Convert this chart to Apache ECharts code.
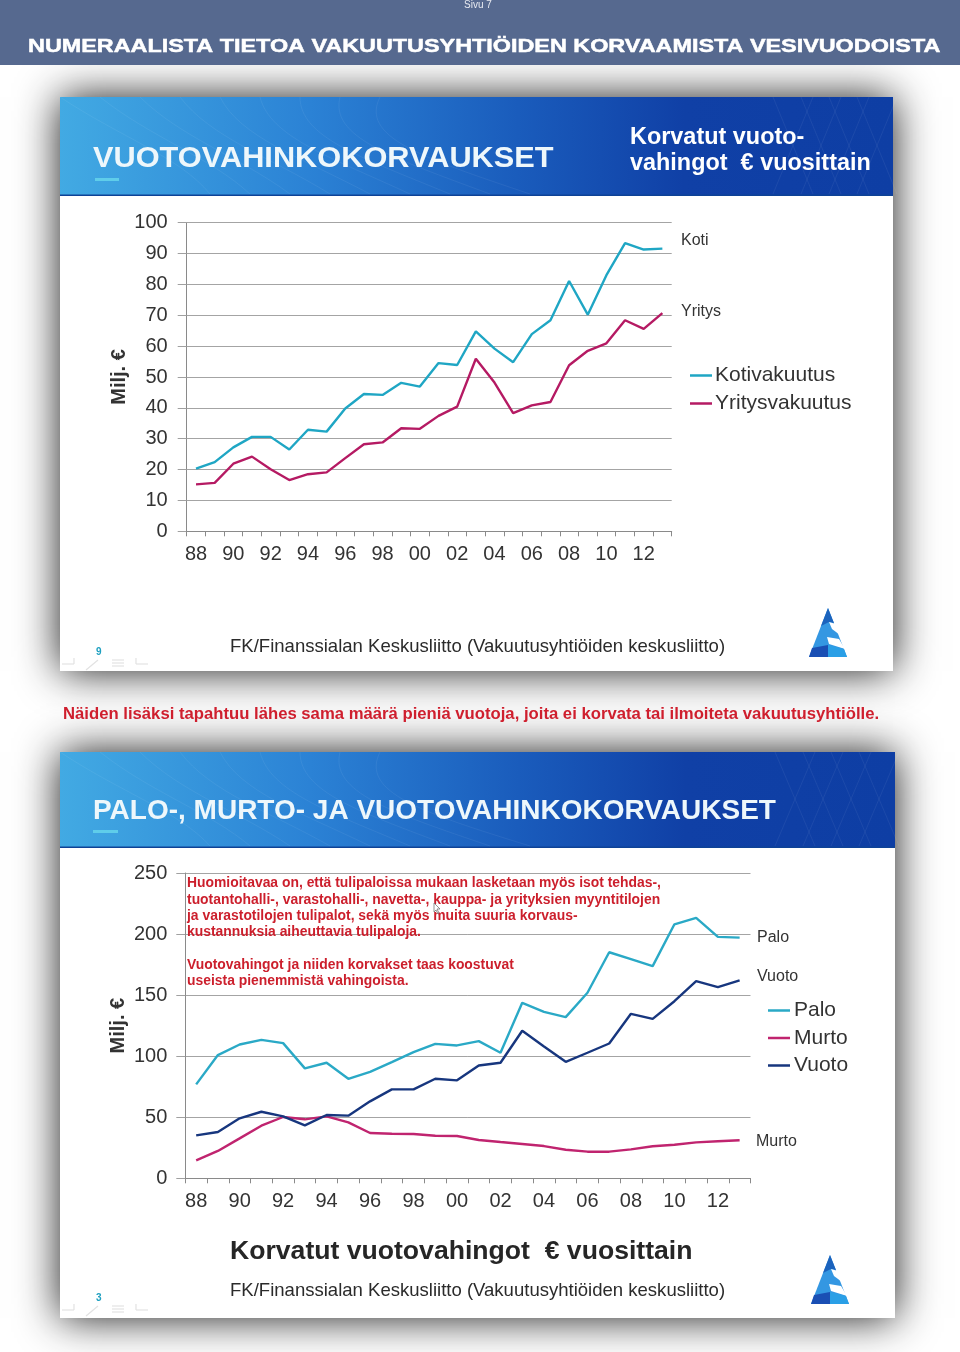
<!DOCTYPE html>
<html>
<head>
<meta charset="utf-8">
<title>Vuotovahinkokorvaukset</title>
<style>
html,body{margin:0;padding:0;background:#fff;}
#myChart{width:960px;height:1352px;}
</style>
<script src="https://cdn.jsdelivr.net/npm/echarts@6/dist/echarts.min.js"></script>
</head>
<body>
<div id="myChart"></div>
<script>
var years = ['88','89','90','91','92','93','94','95','96','97','98','99','00','01','02','03','04','05','06','07','08','09','10','11','12','13'];
var koti = [20.3,22.4,27.2,30.6,30.6,26.5,32.9,32.3,39.8,44.5,44.2,48.1,46.9,54.5,53.9,64.8,59.2,54.8,63.9,68.4,81.1,70.2,83,93.4,91.3,91.6];
var yritys = [15.2,15.7,21.9,24.2,20.1,16.6,18.5,19.1,23.7,28.2,28.8,33.4,33.2,37.4,40.4,55.9,48.2,38.3,40.8,41.9,53.8,58.5,60.9,68.4,65.6,70.7];
var palo = [76.9,100.9,109.6,113.4,110.7,90,94.6,81.5,87.2,95.1,103.3,110.1,108.8,112.3,102.8,143.7,136.3,132,151.9,185.1,179.4,173.7,208,213.2,197.7,197.1];
var murto = [14.7,22.4,32.7,43.1,50.2,48.3,50.7,45.8,37.1,36.5,36.3,34.9,34.6,31.4,29.7,28.1,26.4,23.4,21.8,21.8,23.7,26.2,27.5,29.4,30.3,31.1];
var vuoto = [35.2,37.9,49.1,54.5,50.7,43.3,51.8,51.3,63,72.8,72.8,81.5,80.2,92.4,94.6,120.8,108,95.4,102.8,110.4,134.7,130.6,145,161.4,156.5,162];
var noteLines = [
	'Huomioitavaa on, että tulipaloissa mukaan lasketaan myös isot tehdas-,',
	'tuotantohalli-, varastohalli-, navetta-, kauppa- ja yrityksien myyntitilojen',
	'ja varastotilojen tulipalot, sekä myös muita suuria korvaus-',
	'kustannuksia aiheuttavia tulipaloja.',
	'',
	'Vuotovahingot ja niiden korvakset taas koostuvat',
	'useista pienemmistä vahingoista.'
];

var font = '"Liberation Sans", Arial, sans-serif';
var gridColor = '#a4a4a4';

function txt(x, y, s, size, color, bold, extra){
	var o = {
		type:'text', x:x, y:y + size * 0.07, z:20,
		style:{text:s, font:(bold ? 'bold ' : '') + size + 'px ' + font, fill:color, textVerticalAlign:'middle'}
	};
	if(extra){
		for(var k in extra){ o[k] = extra[k]; }
	}
	return o;
}
function headerFill(){
	return new echarts.graphic.LinearGradient(0,0,1,0.15,[
		{offset:0,color:'#42aae3'},
		{offset:0.3,color:'#2b82d5'},
		{offset:0.55,color:'#1a5cbc'},
		{offset:0.75,color:'#1040a6'},
		{offset:1,color:'#0e3ea4'}
	]);
}
// slide background: shadow, white body, blue header with a few faint lines
function slide(x, y, w, h, headH){
	var list = [
		{type:'rect', z:-5, shape:{x:x,y:y,width:w,height:h}, style:{fill:'#fff',shadowBlur:40,shadowColor:'rgba(0,0,0,0.9)'}},
		{type:'rect', z:-4, shape:{x:x,y:y,width:w,height:headH}, style:{fill:headerFill()}},
		{type:'rect', z:-3, shape:{x:x,y:y+headH-1.5,width:w,height:1.5}, style:{fill:'#0e4296'}}
	];
	for(var i = 0; i < 9; i++){
		list.push({type:'bezierCurve', z:-3, shape:{x1:x+i*40,y1:y,cpx1:x+60+i*30,cpy1:y+40,cpx2:x+120+i*30,cpy2:y+60,x2:x+150+i*40,y2:y+headH-2}, style:{fill:'none',stroke:'rgba(255,255,255,0.06)',lineWidth:1}});
	}
	for(var j = 0; j < 4; j++){
		list.push({type:'line', z:-3, shape:{x1:x+w-120+j*28,y1:y,x2:x+w-80+j*28,y2:y+headH-2}, style:{stroke:'rgba(255,255,255,0.06)',lineWidth:1}});
		list.push({type:'line', z:-3, shape:{x1:x+w-120+j*28,y1:y+headH-2,x2:x+w-80+j*28,y2:y}, style:{stroke:'rgba(255,255,255,0.06)',lineWidth:1}});
	}
	return list;
}
function logo(x, y){
	return [
		{type:'polygon', z:5, shape:{points:[[x+20,y],[x+39,y+49],[x+1,y+49]]}, style:{fill:'#3497e2'}},
		{type:'polygon', z:6, shape:{points:[[x+20,y],[x+26,y+15],[x+21,y+14],[x+13,y+18]]}, style:{fill:'#1b63bd'}},
		{type:'polygon', z:7, shape:{points:[[x+21,y+14],[x+28,y+16],[x+32,y+27],[x+24,y+21]]}, style:{fill:'#fff'}},
		{type:'polygon', z:7, shape:{points:[[x+19,y+29],[x+31,y+31],[x+37,y+41],[x+21,y+36]]}, style:{fill:'#fff'}},
		{type:'polygon', z:8, shape:{points:[[x+4,y+40],[x+20,y+37],[x+20,y+49],[x+1,y+49]]}, style:{fill:'#1a4fb4'}},
		{type:'polygon', z:8, shape:{points:[[x+20,y+37],[x+36,y+41],[x+39,y+49],[x+20,y+49]]}, style:{fill:'#2a9fe6'}}
	];
}
function navIcons(x, y){
	var c = '#e2e2e2', list = [];
	[[0,2,12,2],[12,2,12,-4],[24,8,36,-2],[50,-2,62,-2],[50,1,62,1],[50,4,62,4],[74,2,86,2],[74,2,74,-4]].forEach(function(s){
		list.push({type:'line', z:5, shape:{x1:x+s[0],y1:y+s[1],x2:x+s[2],y2:y+s[3]}, style:{stroke:c,lineWidth:1.2}});
	});
	return list;
}

var elements = [
	{type:'rect', z:-2, shape:{x:0,y:0,width:960,height:65}, style:{fill:'#56698f'}},
	{type:'text', x:478, y:5, z:20, style:{text:'Sivu 7',font:'10px '+font,fill:'#e6e9f0',textAlign:'center',textVerticalAlign:'middle'}},
	{type:'text', x:28, y:47, z:20, scaleX:1.23, style:{text:'NUMERAALISTA TIETOA VAKUUTUSYHTIÖIDEN KORVAAMISTA VESIVUODOISTA',font:'bold 19px '+font,fill:'#fff',stroke:'#fff',lineWidth:0.5,textVerticalAlign:'middle'}}
];
elements = elements.concat(slide(60,97,833,574,99), slide(60,752,835,566,96));
elements = elements.concat(logo(808,608), logo(810,1255), navIcons(62,662), navIcons(62,1308));
elements.push(
	txt(93, 157, 'VUOTOVAHINKOKORVAUKSET', 29, '#eef7fb', true, {scaleX:1.06}),
	{type:'rect', z:5, shape:{x:95,y:178,width:24,height:3}, style:{fill:'#5fcdea'}},
	txt(630, 136, 'Korvatut vuoto-', 24, '#fff', true, {scaleX:0.976}),
	txt(630, 162, 'vahingot  € vuosittain', 24, '#fff', true, {scaleX:0.976}),
	txt(681, 239, 'Koti', 16, '#333', false),
	txt(681, 310, 'Yritys', 16, '#333', false),
	txt(96, 652, '9', 10, '#1fa0c0', true),
	txt(230, 646, 'FK/Finanssialan Keskusliitto (Vakuutusyhtiöiden keskusliitto)', 18.55, '#2b2b2b', false),
	txt(63, 713, 'Näiden lisäksi tapahtuu lähes sama määrä pieniä vuotoja, joita ei korvata tai ilmoiteta vakuutusyhtiölle.', 16.7, '#cf1f2e', true),
	txt(93, 809, 'PALO-, MURTO- JA VUOTOVAHINKOKORVAUKSET', 28, '#eef7fb', true),
	{type:'rect', z:5, shape:{x:93,y:830,width:25,height:3}, style:{fill:'#5fcdea'}},
	txt(757, 936, 'Palo', 16, '#333', false),
	txt(757, 975, 'Vuoto', 16, '#333', false),
	txt(756, 1140, 'Murto', 16, '#333', false),
	txt(230, 1250, 'Korvatut vuotovahingot  € vuosittain', 26.6, '#262626', true),
	txt(96, 1298, '3', 10, '#1fa0c0', true),
	txt(230, 1290, 'FK/Finanssialan Keskusliitto (Vakuutusyhtiöiden keskusliitto)', 18.55, '#2b2b2b', false),
	{type:'polygon', z:21, shape:{points:[[434,903],[434,912],[436,910],[438,914],[439,913],[437,909],[440,909]]}, style:{fill:'#fff',stroke:'#666',lineWidth:0.7}}
);
noteLines.forEach(function(s, i){
	if(s){ elements.push(txt(187, 882.5 + i * 16.3, s, 13.9, '#cc1f2c', true)); }
});

function xAxis(idx){
	return {
		type:'category', gridIndex:idx, data:years, boundaryGap:true,
		axisLine:{lineStyle:{color:'#8a8a8a',width:1}},
		axisTick:{show:true,interval:0,length:5,lineStyle:{color:'#8a8a8a'}},
		axisLabel:{interval:1,margin:13,fontSize:20,color:'#333',fontFamily:font},
		splitLine:{show:false}
	};
}
function yAxis(idx, max, step, labelMargin){
	return {
		type:'value', gridIndex:idx, min:0, max:max, interval:step,
		name:'Milj. €', nameLocation:'middle', nameRotate:90, nameGap:57, nameMoveOverlap:false,
		nameTextStyle:{fontSize:20,fontWeight:'bold',color:'#333',fontFamily:font},
		axisLine:{show:true,onZero:false,lineStyle:{color:'#8a8a8a',width:1}},
		axisTick:{show:true,length:9,lineStyle:{color:'#a0a0a0'}},
		axisLabel:{margin:labelMargin,fontSize:20,color:'#333',fontFamily:font},
		splitLine:{show:true,lineStyle:{color:gridColor,width:1}}
	};
}
function line(name, data, color, idx){
	return {
		name:name, type:'line', data:data, xAxisIndex:idx, yAxisIndex:idx,
		showSymbol:false, smooth:false, z:5,
		lineStyle:{color:color,width:2.4}, itemStyle:{color:color}
	};
}
function legend(names, left, top, gap, textGap){
	return {
		data:names, orient:'vertical', left:left, top:top, itemGap:gap, padding:0,
		icon:'rect', itemWidth:22, itemHeight:2.5,
		textStyle:{fontSize:21,color:'#333',fontFamily:font,padding:[0,0,0,textGap]}
	};
}

var option = {
	backgroundColor:'#fff',
	animation:false,
	grid:[
		{left:186.7,top:222.7,width:485,height:308.6},
		{left:185.3,top:873,width:565.2,height:305.3}
	],
	xAxis:[xAxis(0), xAxis(1)],
	yAxis:[yAxis(0,100,10,19), yAxis(1,250,50,18)],
	legend:[
		legend(['Kotivakuutus','Yritysvakuutus'], 690, 365, 7, -2),
		legend(['Palo','Murto','Vuoto'], 768, 1000, 6.5, -1)
	],
	series:[
		line('Kotivakuutus', koti, '#1fa6c4', 0),
		line('Yritysvakuutus', yritys, '#b51a63', 0),
		line('Palo', palo, '#2aa9c6', 1),
		line('Murto', murto, '#c0246f', 1),
		line('Vuoto', vuoto, '#17367e', 1)
	],
	graphic:{elements:elements}
};
echarts.init(document.getElementById('myChart'), null, {renderer:'canvas'}).setOption(option);
</script>
</body>
</html>
